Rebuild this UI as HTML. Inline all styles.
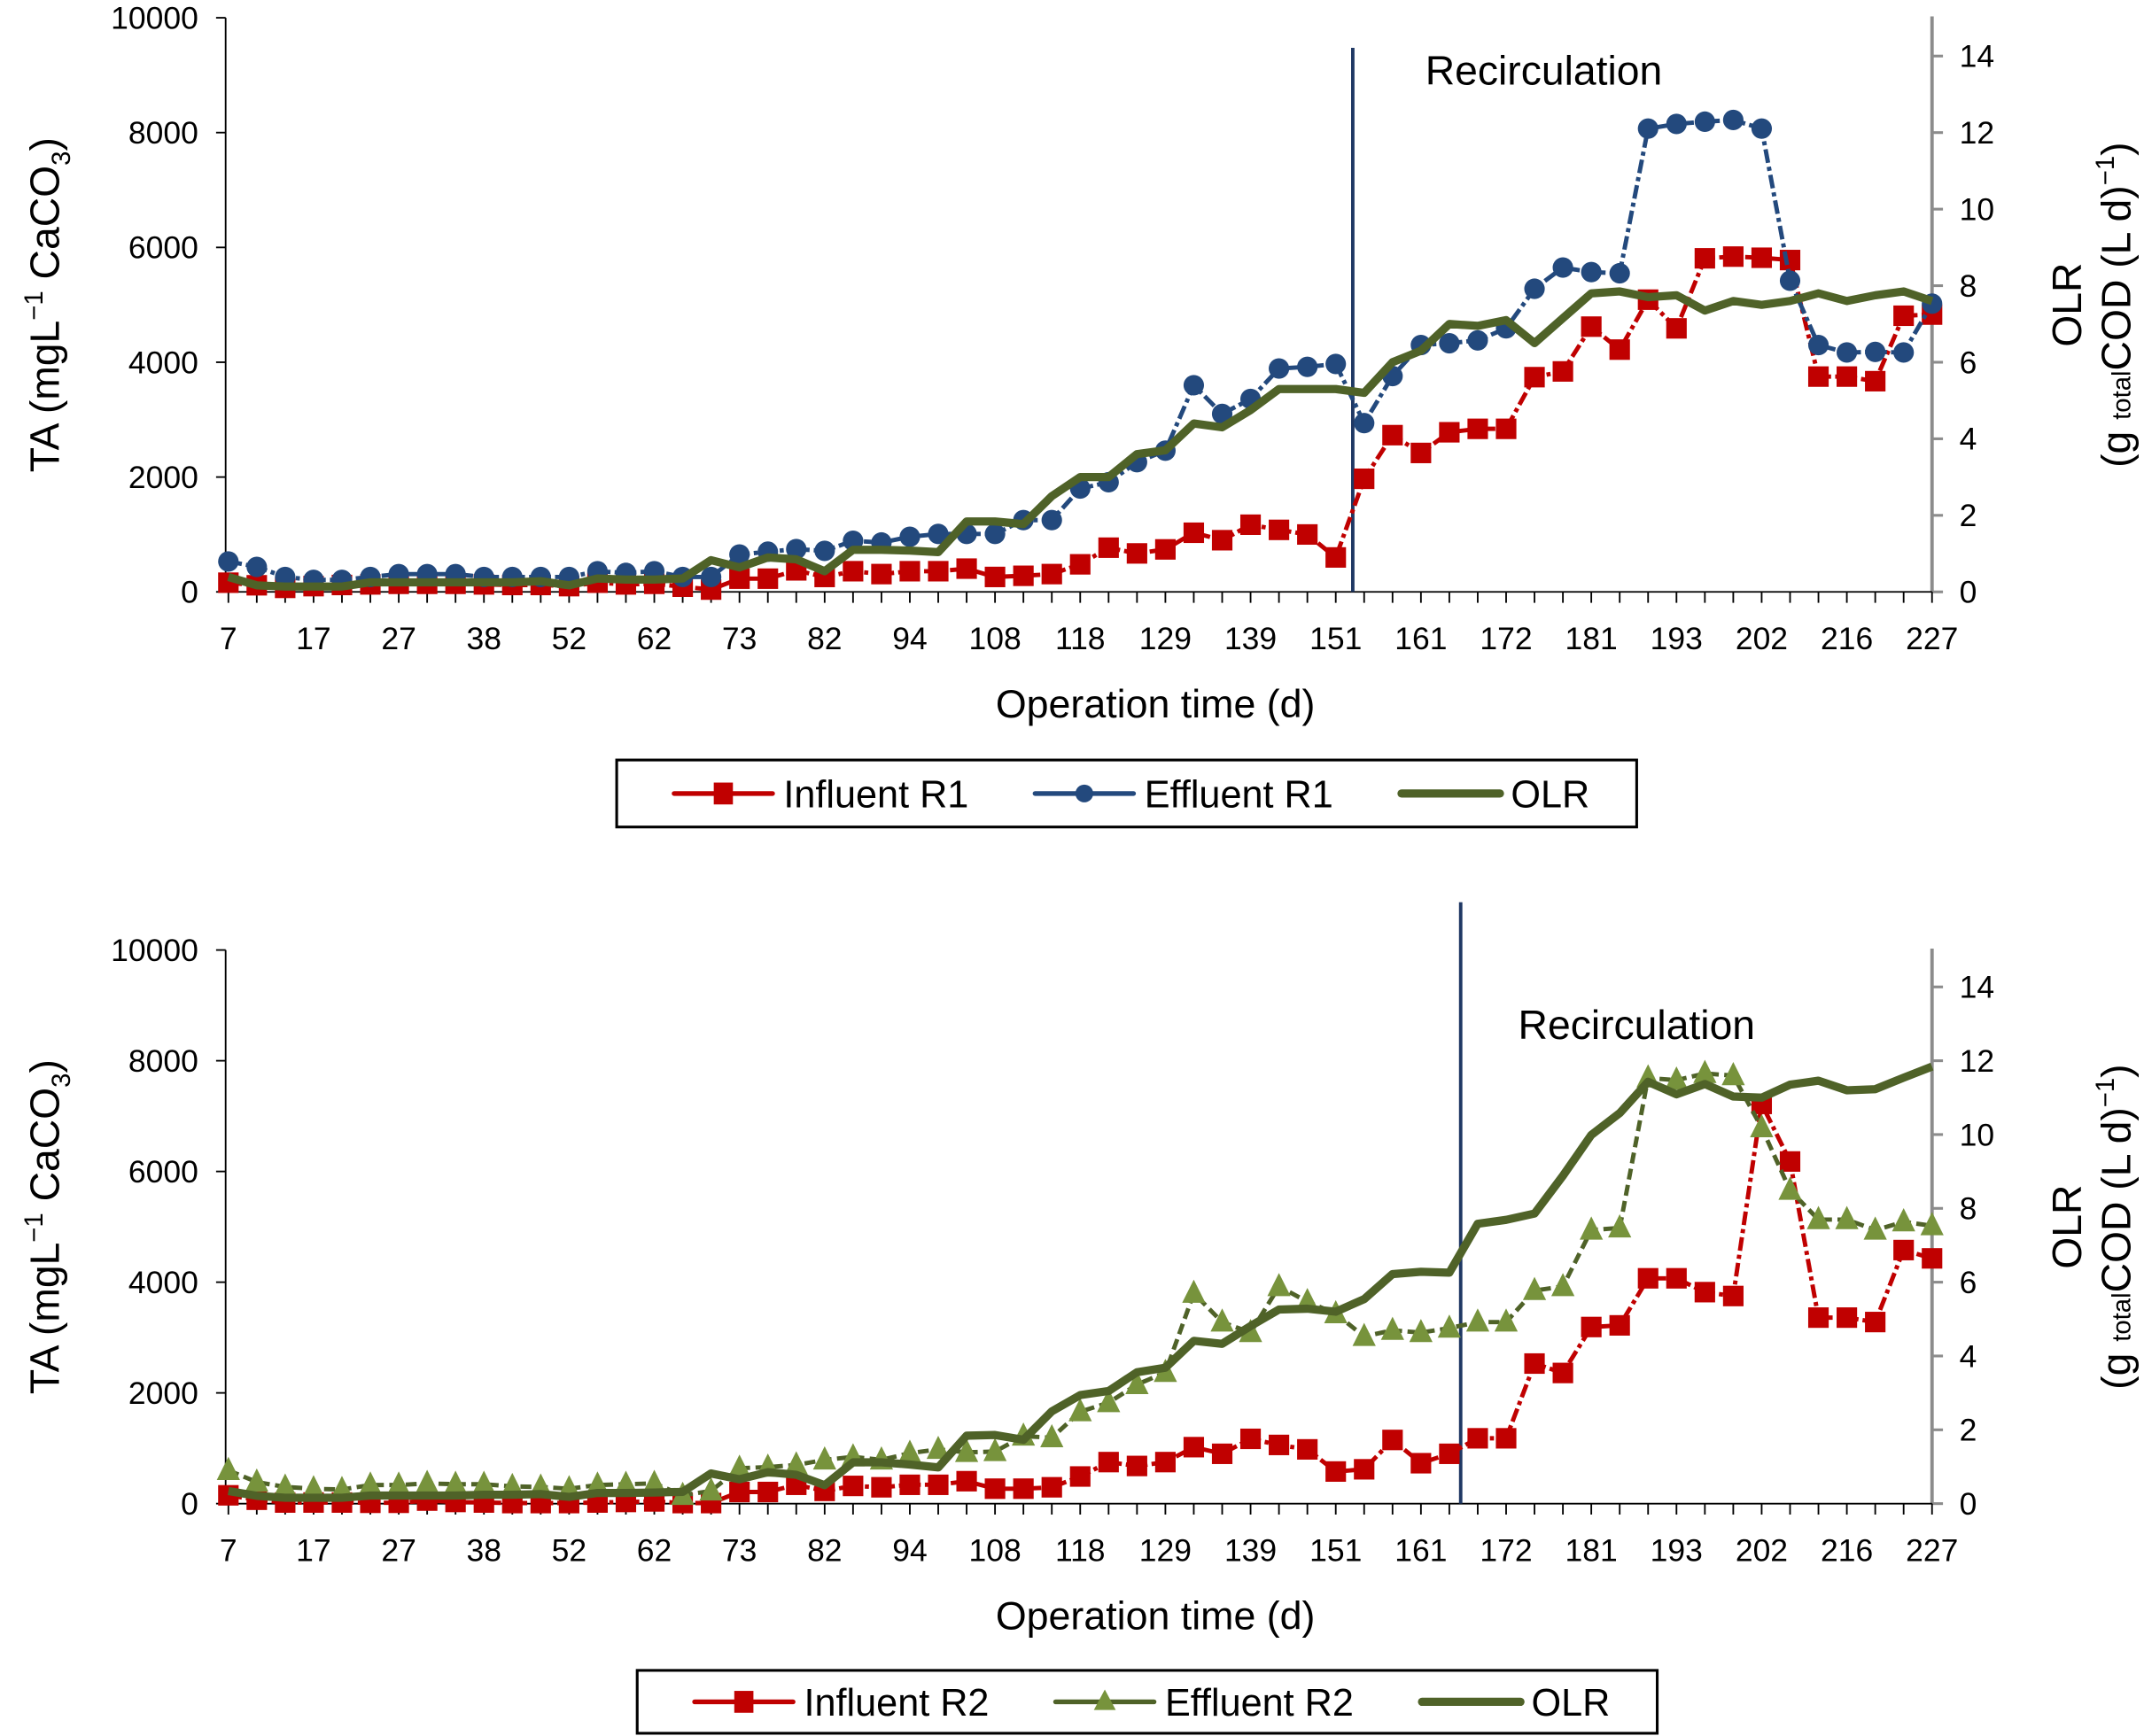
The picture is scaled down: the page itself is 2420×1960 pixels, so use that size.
<!DOCTYPE html>
<html><head><meta charset="utf-8"><style>
html,body{margin:0;padding:0;background:#fff;}
svg{display:block;font-family:"Liberation Sans",Arial,sans-serif;}
</style></head><body>
<svg id="chart" width="2420" height="1960" viewBox="0 0 1568 1270" xmlns="http://www.w3.org/2000/svg"></svg>
<script>
const days=[7,10,13,17,20,24,27,31,34,38,42,48,52,55,59,62,66,69,73,76,79,82,86,90,94,98,103,108,111,115,118,122,125,129,132,136,139,143,147,151,154,158,161,165,168,172,175,178,181,185,189,193,196,199,202,206,210,216,220,223,227];
const tickLabels=[7,17,27,38,52,62,73,82,94,108,118,129,139,151,161,172,181,193,202,216,227];
const yLeftTicks=[0,2000,4000,6000,8000,10000];
const yRightTicks=[0,2,4,6,8,10,12,14];
const infR1=[160,115,70,100,120,130,140,140,140,130,120,120,100,160,130,140,90,40,230,230,375,260,360,310,360,360,405,260,280,310,480,770,670,740,1030,900,1170,1080,1000,600,1970,2730,2420,2780,2840,2840,3740,3840,4620,4220,5090,4590,5810,5840,5820,5780,3750,3750,3670,4810,4830];
const effR1=[530,435,260,210,210,260,310,310,310,260,260,260,260,360,330,360,260,260,650,700,745,715,890,860,960,1010,1010,1010,1250,1250,1800,1910,2260,2460,3600,3100,3360,3890,3920,3970,2940,3760,4300,4330,4380,4590,5280,5650,5570,5550,8070,8150,8190,8220,8070,5420,4300,4170,4180,4170,5020];
const olrR1=[0.39,0.17,0.14,0.14,0.14,0.25,0.25,0.25,0.25,0.25,0.25,0.28,0.17,0.35,0.32,0.32,0.35,0.83,0.64,0.9,0.85,0.54,1.1,1.1,1.08,1.04,1.84,1.84,1.77,2.5,3.0,3.0,3.6,3.7,4.4,4.3,4.75,5.3,5.3,5.3,5.2,6.0,6.3,7.0,6.95,7.1,6.5,7.15,7.8,7.85,7.7,7.75,7.35,7.6,7.5,7.6,7.8,7.6,7.75,7.85,7.6];
const infR2=[150,70,20,20,20,15,15,55,30,20,10,10,10,20,30,40,10,10,210,210,340,230,320,295,340,340,405,270,270,295,490,750,680,750,1020,900,1170,1060,980,580,620,1150,730,900,1180,1180,2530,2360,3190,3220,4070,4070,3820,3750,7220,6180,3360,3360,3280,4580,4430];
const effR2=[600,390,300,270,255,335,335,365,350,350,310,300,270,335,350,365,150,230,640,660,700,790,845,790,910,980,925,940,1220,1190,1660,1825,2150,2370,3800,3280,3090,3920,3650,3430,3020,3130,3090,3170,3280,3280,3850,3920,4940,4980,7690,7650,7770,7730,6790,5660,5130,5130,4940,5090,5020];
const olrR2=[0.34,0.21,0.16,0.16,0.16,0.22,0.22,0.22,0.22,0.24,0.24,0.26,0.18,0.29,0.29,0.3,0.32,0.82,0.66,0.85,0.78,0.5,1.12,1.12,1.06,0.98,1.84,1.86,1.73,2.5,2.94,3.05,3.56,3.68,4.41,4.33,4.81,5.26,5.28,5.2,5.54,6.22,6.28,6.26,7.58,7.69,7.86,8.88,9.99,10.58,11.43,11.09,11.37,11.03,11.0,11.35,11.46,11.2,11.23,11.54,11.84];
const recircIdx=[39.6,43.4];

const NS="http://www.w3.org/2000/svg";
const svg=document.getElementById('chart');
function mk(tag,attrs,parent,txt){const e=document.createElementNS(NS,tag);for(const k in attrs)e.setAttribute(k,attrs[k]);if(txt!==undefined)e.textContent=txt;(parent||svg).appendChild(e);return e;}
const RED="#c00000",BLUE="#23497d",GREEN="#4f6228",LGREEN="#77933c";

function drawPanel(p){
  const g=mk('g',{});
  
  
  const x0=167,x1=1413,n=days.length;
  const X=i=>x0+(x1-x0)*i/(n-1);
  const YL=v=>p.yb-(p.yb-p.yt)*v/10000;
  const YR=v=>p.yb-(p.yb-p.yt)*v/15;
  const la=mk('line',{x1:165,y1:p.yt,x2:165,y2:p.yb,stroke:'#000','stroke-width':1.2},g);
  
  yLeftTicks.forEach(v=>{
    mk('line',{x1:158,y1:YL(v),x2:165,y2:YL(v),stroke:'#000','stroke-width':1.2},g);
    const t=mk('text',{x:145,y:YL(v)+8,'text-anchor':'end','font-size':23},g,String(v));
    
  });
  const ra=mk('line',{x1:x1,y1:p.yt-1,x2:x1,y2:p.yb,stroke:'#8c8c8c','stroke-width':2.5},g);
  
  yRightTicks.forEach(v=>{
    mk('line',{x1:x1,y1:YR(v),x2:x1+8,y2:YR(v),stroke:'#8c8c8c','stroke-width':2},g);
    const t=mk('text',{x:1433,y:YR(v)+8,'font-size':23},g,String(v));
    
  });
  const xa=mk('line',{x1:165,y1:p.yb,x2:x1,y2:p.yb,stroke:'#000','stroke-width':1.2},g);
  
  for(let i=0;i<n;i++) mk('line',{x1:X(i),y1:p.yb,x2:X(i),y2:p.yb+8,stroke:'#000','stroke-width':1.2},g);
  tickLabels.forEach((d,k)=>{
    const t=mk('text',{x:X(k*3),y:p.yb+42,'text-anchor':'middle','font-size':23},g,String(d));
    
  });
  const xt=mk('text',{x:845,y:p.yb+92,'text-anchor':'middle','font-size':29},g,'Operation time (d)');
  
  const cy=(p.yt+p.yb)/2;
  const lt=mk('text',{transform:`translate(43,${cy}) rotate(-90)`,'text-anchor':'middle','font-size':30},g);
  
  lt.innerHTML='TA (mgL<tspan dy="-12" font-size="19">−1</tspan><tspan dy="12"> CaCO</tspan><tspan dy="8" font-size="19">3</tspan><tspan dy="-8">)</tspan>';
  const rt=mk('text',{transform:`translate(1522,${cy}) rotate(-90)`,'text-anchor':'middle','font-size':30},g,'OLR');
  
  const rt2=mk('text',{transform:`translate(1558,${cy}) rotate(-90)`,'text-anchor':'middle','font-size':30},g);
  
  rt2.innerHTML='(g <tspan font-size="19">total</tspan>COD (L d)<tspan dy="-12" font-size="19">−1</tspan><tspan dy="12">)</tspan>';
  const rx=X(p.recirc);
  const rl=mk('line',{x1:rx,y1:p.recTop,x2:rx,y2:p.yb,stroke:'#1f3864','stroke-width':2.5},g);
  
  const rtx=mk('text',{x:rx+p.recDx,y:p.recTextY,'font-size':30},g,'Recirculation');
  
  function series(vals,Y,color,dash,marker,name,mcolor){
    const pts=vals.map((v,i)=>X(i).toFixed(1)+','+Y(v).toFixed(1)).join(' ');
    const sg=mk('g',{},g);
    
    const pl=mk('polyline',{points:pts,fill:'none',stroke:color,'stroke-width':marker?3.2:6,'stroke-dasharray':dash||'none','stroke-linejoin':'round'},sg);
    
    if(!marker)return;
    vals.forEach((v,i)=>{
      const x=X(i),y=Y(v);let m;
      if(marker==='sq')m=mk('rect',{x:x-7.5,y:y-7.5,width:15,height:15,fill:mcolor},sg);
      else if(marker==='ci')m=mk('circle',{cx:x,cy:y,r:7.5,fill:mcolor},sg);
      else m=mk('polygon',{points:`${x},${y-10} ${x-8.5},${y+7} ${x+8.5},${y+7}`,fill:mcolor},sg);
      
    });
  }
  series(p.inf,YL,RED,'10,3,3,3','sq','influent-series',RED);
  if(p.effMarker==='ci'){series(p.eff,YL,BLUE,'10,3,3,3','ci','effluent-series',BLUE);series(p.olr,YR,GREEN,null,null,'olr-series');}
  else{series(p.eff,YL,GREEN,'8,4','tr','effluent-series',LGREEN);series(p.olr,YR,GREEN,null,null,'olr-series');}
  const lg=mk('g',{},g);
  
  mk('rect',{x:p.lx,y:p.ly,width:746,height:p.lh,fill:'#fff',stroke:'#000','stroke-width':2},lg);
  const my=p.ly+p.lh/2;
  const ents=[[p.lx+42,RED,'sq','Influent '+p.rn],[p.lx+306,p.effMarker==='ci'?BLUE:GREEN,p.effMarker,'Effluent '+p.rn],[p.lx+574,GREEN,null,'OLR']];
  ents.forEach(([ex,c,mkr,label])=>{
    const eg=mk('g',{},lg);
    
    mk('line',{x1:ex,y1:my,x2:ex+72,y2:my,stroke:c,'stroke-width':mkr?3.5:6,'stroke-linecap':'round'},eg);
    const cx=ex+36;
    if(mkr==='sq')mk('rect',{x:cx-7,y:my-8,width:14,height:16,fill:RED},eg);
    if(mkr==='ci')mk('circle',{cx:cx,cy:my,r:6.5,fill:BLUE},eg);
    if(mkr==='tr')mk('polygon',{points:`${cx},${my-9} ${cx-8},${my+6} ${cx+8},${my+6}`,fill:LGREEN},eg);
    mk('text',{x:ex+80,y:my+10,'font-size':28},eg,label);
  });
}
drawPanel({name:'panel-r1',yt:13,yb:433,recirc:recircIdx[0],recTop:35,recDx:53,recTextY:62,inf:infR1,eff:effR1,olr:olrR1,effMarker:'ci',rn:'R1',lx:451,ly:556,lh:49});
drawPanel({name:'panel-r2',yt:695,yb:1100,recirc:recircIdx[1],recTop:660,recDx:42,recTextY:760,inf:infR2,eff:effR2,olr:olrR2,effMarker:'tr',rn:'R2',lx:466,ly:1222,lh:46});
</script>
</body></html>
